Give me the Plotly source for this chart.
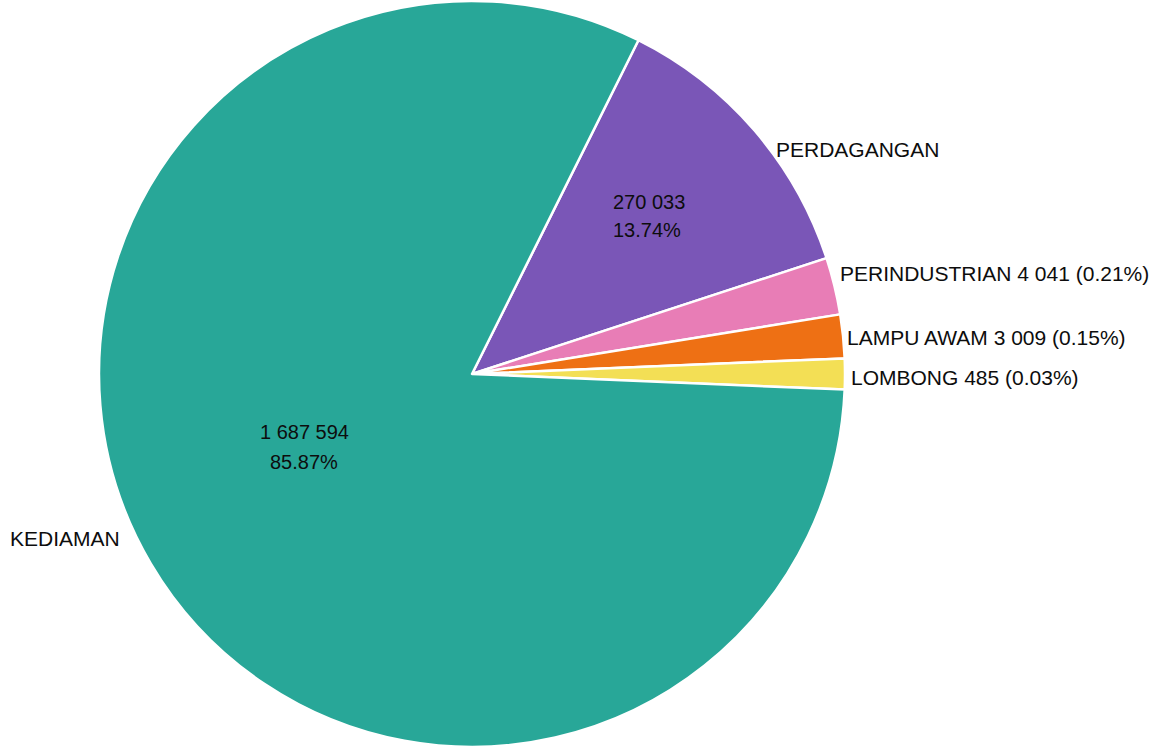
import plotly.graph_objects as go

# Data
categories = ["PERDAGANGAN", "PERINDUSTRIAN", "LAMPU AWAM", "LOMBONG", "KEDIAMAN"]
counts = [270033, 4041, 3009, 485, 1687594]
percent_labels = ["13.74", "0.21", "0.15", "0.03", "85.87"]
# slice sizes as drawn in the reference (degrees of the circle; small slices exaggerated)
drawn_angle_deg = [45.4, 8.9, 6.8, 4.8, 294.1]
colors = ["#7a56b7", "#e87db6", "#ee7014", "#f3df55", "#28a798"]

W, H = 1163, 748


def fmt(n):
    return f"{n:,}".replace(",", " ")


fig = go.Figure(go.Pie(
    labels=categories,
    values=drawn_angle_deg,
    sort=False,
    direction="clockwise",
    rotation=26.5,
    marker=dict(colors=colors, line=dict(color="white", width=2.5)),
    textinfo="none",
    hoverinfo="skip",
    showlegend=False,
    domain=dict(x=[99 / W, 845 / W], y=[0, 1]),
))

outer_font = dict(family="Liberation Sans, Arial, sans-serif", size=21, color="#0d0d0d")
inner_font = dict(family="Liberation Sans, Arial, sans-serif", size=20, color="#0d0d0d")


def ann(text, px, py, xanchor="left", font=outer_font):
    return dict(text=text, x=px / W, y=1 - py / H, xref="paper", yref="paper",
                xanchor=xanchor, yanchor="middle", showarrow=False, font=font)


annotations = [
    ann(categories[0], 774, 149),
    ann(f"{categories[1]} {fmt(counts[1])} ({percent_labels[1]}%)", 838, 273),
    ann(f"{categories[2]} {fmt(counts[2])} ({percent_labels[2]}%)", 845, 337),
    ann(f"{categories[3]} {fmt(counts[3])} ({percent_labels[3]}%)", 849, 377),
    ann(categories[4], 8, 538),
    ann(fmt(counts[0]), 611, 202, font=inner_font),
    ann(f"{percent_labels[0]}%", 611, 230, font=inner_font),
    ann(fmt(counts[4]), 304, 432, "center", font=inner_font),
    ann(f"{percent_labels[4]}%", 304, 462, "center", font=inner_font),
]

fig.update_layout(
    width=W, height=H,
    margin=dict(l=0, r=0, t=0, b=0),
    paper_bgcolor="white",
    plot_bgcolor="white",
    annotations=annotations,
)

fig.write_html("out.html")
